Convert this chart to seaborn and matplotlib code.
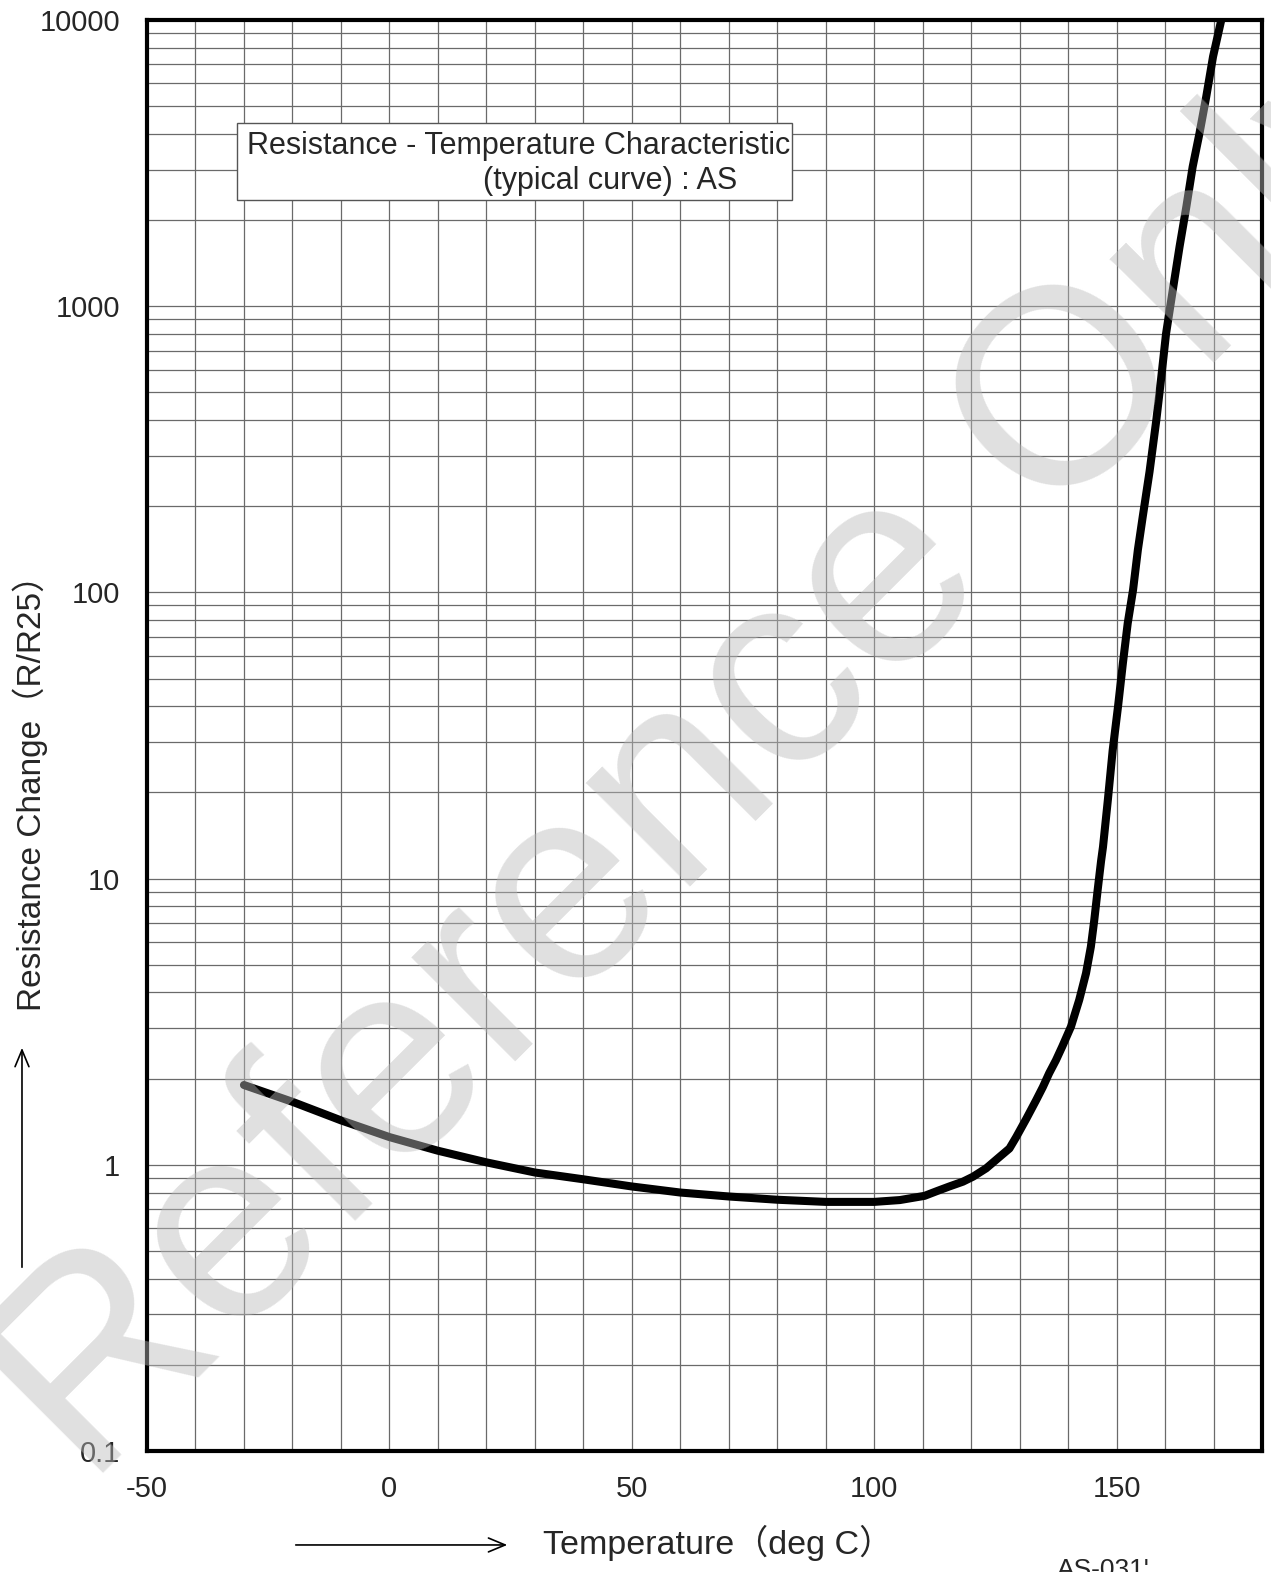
import matplotlib
matplotlib.use("Agg")
import matplotlib.pyplot as plt
import matplotlib.ticker as mticker
from matplotlib.patches import Rectangle, FancyArrowPatch
import seaborn as sns
import pandas as pd

# ---- data ----
temps = [-30, -20, -10, 0, 10, 20, 30, 40, 50, 60, 70, 80, 90, 100, 105.3, 110.4,
         113, 115.5, 118.3, 120.4, 123.1, 125.9, 127.9, 129.3, 131.4, 133.4, 134.8,
         136.1, 137.5, 138.8, 140.6, 142.3, 143.7, 144.7, 145.4, 146.1, 146.8,
         147.2, 148.2, 149.2, 150.3, 151.3, 152.3, 153.4, 154.4, 155.4, 156.8,
         158.2, 159.2, 160.2, 161.6, 163.0, 164.4, 165.7, 167.1, 168.5,
         169.9, 171.6]
ratios = [1.90, 1.66, 1.43, 1.25, 1.12, 1.02, 0.94, 0.89, 0.84, 0.80, 0.775, 0.755,
          0.742, 0.742, 0.753, 0.779, 0.81, 0.84, 0.873, 0.909, 0.972, 1.067, 1.14,
          1.25, 1.45, 1.68, 1.87, 2.09, 2.32, 2.59, 3.04, 3.77, 4.67, 5.78, 7.16,
          9.12, 11.5, 12.9, 18.8, 28.1, 39.9, 56.5, 78, 102, 141, 184, 264,
          400, 560, 800, 1140, 1616, 2228, 3071, 4015, 5398, 7447, 10000]
x_ticks = [-50, 0, 50, 100, 150]
y_ticks = [0.1, 1, 10, 100, 1000, 10000]
y_tick_labels = ["0.1", "1", "10", "100", "1000", "10000"]
title_line1 = "Resistance - Temperature Characteristic"
title_line2 = "(typical curve) : AS"
x_label = "Temperature（deg C）"
y_label = "Resistance Change（R/R25）"
doc_code = "AS-031'"
watermark = "Reference Only"

df = pd.DataFrame({"T": temps, "R": ratios})

sns.set_style("white")
plt.rcParams["font.family"] = ["Liberation Sans", "Noto Sans CJK JP", "DejaVu Sans"]
plt.rcParams["axes.unicode_minus"] = False

fig = plt.figure(figsize=(12.71, 15.72), dpi=100)
ax = fig.add_axes([147 / 1271, 1 - 1451 / 1572, (1262 - 147) / 1271, (1451 - 20) / 1572])

ax.set_yscale("log")
ax.set_xlim(-50, 180)
ax.set_ylim(0.1, 10000)

# grid
ax.xaxis.set_major_locator(mticker.FixedLocator(x_ticks))
ax.xaxis.set_minor_locator(mticker.MultipleLocator(10))
ax.yaxis.set_major_locator(mticker.FixedLocator(y_ticks))
ax.yaxis.set_major_formatter(mticker.FixedFormatter(y_tick_labels))
ax.yaxis.set_minor_locator(mticker.LogLocator(base=10, subs=range(2, 10), numticks=50))
ax.yaxis.set_minor_formatter(mticker.NullFormatter())
ax.grid(True, which="both", color="#6a6a6a", linewidth=0.9)
ax.set_axisbelow(True)

sns.lineplot(data=df, x="T", y="R", ax=ax, color="black", linewidth=5.8,
             solid_capstyle="round", solid_joinstyle="round", sort=False)
ax.set_xlabel("")
ax.set_ylabel("")

for s in ax.spines.values():
    s.set_linewidth(3.0)
    s.set_color("black")

ax.tick_params(axis="x", which="major", direction="inout", length=14, width=1.5,
               labelsize=21, pad=10)
ax.tick_params(axis="y", which="major", direction="inout", length=13, width=1.5,
               labelsize=21, pad=13)
ax.tick_params(which="minor", length=0)

# title box
ax.add_patch(Rectangle((0.0807, 0.8742), 0.4978, 0.0538, transform=ax.transAxes,
                       facecolor="white", edgecolor="#555555", linewidth=1.0, zorder=3))
ax.text(0.0897, 0.912, title_line1, transform=ax.transAxes, fontsize=22,
        ha="left", va="center", zorder=4)
ax.text(0.529, 0.8875, title_line2, transform=ax.transAxes, fontsize=22,
        ha="right", va="center", zorder=4)

# axis labels with arrows
fig.text(0.565, 0.0184, x_label, fontsize=24.5, ha="center", va="center")
fig.text(0.0236, 0.5006, y_label, fontsize=24, rotation=90, ha="center", va="center")
fig.add_artist(FancyArrowPatch(
    (0.2305, 0.0172), (0.4013, 0.0172), transform=fig.transFigure,
    arrowstyle="->,head_length=12,head_width=5", color="black", linewidth=1.2))
fig.add_artist(FancyArrowPatch(
    (0.0173, 0.1921), (0.0173, 0.3352), transform=fig.transFigure,
    arrowstyle="->,head_length=12,head_width=5", color="black", linewidth=1.2))

fig.text(1057 / 1271, 1 - 1558 / 1572, doc_code, fontsize=19, ha="left", va="top")

# watermark
fig.text(719 / 1271, 1 - 756 / 1572, watermark, fontsize=200, rotation=45,
         ha="center", va="center", color=(0.73, 0.73, 0.73), alpha=0.45,
         rotation_mode="anchor", zorder=10)

fig.savefig("out.png", dpi=100)
